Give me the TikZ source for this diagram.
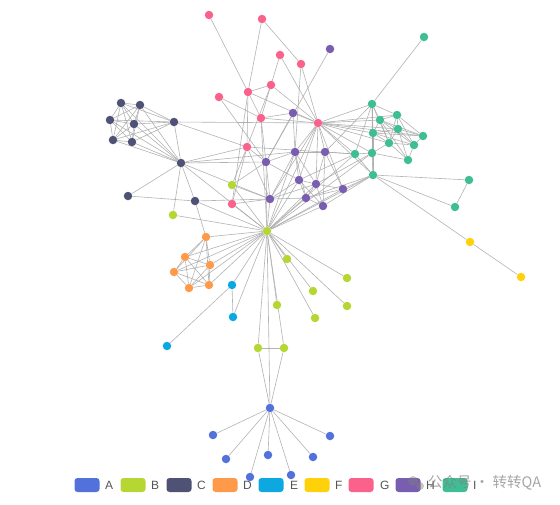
\documentclass[tikz,border=0pt]{standalone}
\usepackage{fontspec}
\setmainfont{Liberation Sans}
\newfontfamily\cjk{Noto Sans CJK SC}
\pgfdeclarelayer{bg}
\pgfsetlayers{bg,main}
\definecolor{cA}{HTML}{5271DB}
\definecolor{cB}{HTML}{B6D634}
\definecolor{cC}{HTML}{505275}
\definecolor{cD}{HTML}{FF9A4B}
\definecolor{cE}{HTML}{0CA8DF}
\definecolor{cF}{HTML}{FFD10A}
\definecolor{cG}{HTML}{FB628B}
\definecolor{cH}{HTML}{785DB0}
\definecolor{cI}{HTML}{3FBE95}
\definecolor{edgegray}{HTML}{AAAAAA}
\definecolor{legtext}{HTML}{555555}
\tikzset{
  dot/.style={circle, inner sep=0pt, minimum size=8.5pt, draw=none},
  edge/.style={draw=edgegray, line width=0.6pt, opacity=0.9},
  legbox/.style={rounded corners=3pt, inner sep=0pt, minimum width=25pt, minimum height=14pt},
  legtxt/.style={text=legtext, font=\fontsize{12}{14}\selectfont, inner sep=0pt, anchor=west},
}
\begin{document}
\begin{tikzpicture}[x=1pt,y=-1pt]
\useasboundingbox (0,0) rectangle (560,504);
% C
\foreach \n/\x/\y in {c1/121/103, c2/140/105, c3/110/120, c4/134/124, c5/113/140, c6/132/142, c7/174/122, c8/181/163, c9/128/196, c10/195/201}
  \node[dot, fill=cC] (\n) at (\x,\y) {};
% G
\foreach \n/\x/\y in {g1/209/15, g2/262/19, g3/280/55, g4/301/64, g5/271/85, g6/248/92, g7/219/97, g8/261/118, g9/318/123, g10/247/147, g11/232/204}
  \node[dot, fill=cG] (\n) at (\x,\y) {};
% H
\foreach \n/\x/\y in {h1/330/49, h2/293/113, h3/266/162, h4/295/152, h5/325/152, h6/299/180, h7/316/184, h8/343/189, h9/306/198, h10/323/206, h11/270/199}
  \node[dot, fill=cH] (\n) at (\x,\y) {};
% I
\foreach \n/\x/\y in {i1/424/37, i2/372/104, i3/380/120, i4/397/115, i5/373/133, i6/398/129, i7/423/136, i8/389/143, i9/414/145, i10/355/154, i11/372/153, i12/408/160, i13/373/175, i14/469/180, i15/455/207}
  \node[dot, fill=cI] (\n) at (\x,\y) {};
% B
\foreach \n/\x/\y in {b0/267/231, b1/232/185, b2/173/215, b3/287/259, b4/347/278, b5/313/291, b6/347/306, b7/277/305, b8/315/318, b9/258/348, b10/284/348}
  \node[dot, fill=cB] (\n) at (\x,\y) {};
% D
\foreach \n/\x/\y in {d1/206/237, d2/185/257, d3/210/265, d4/174/272, d5/189/288, d6/209/285}
  \node[dot, fill=cD] (\n) at (\x,\y) {};
% E
\foreach \n/\x/\y in {e1/232/285, e2/233/317, e3/167/346}
  \node[dot, fill=cE] (\n) at (\x,\y) {};
% F
\foreach \n/\x/\y in {f1/470/242, f2/521/277}
  \node[dot, fill=cF] (\n) at (\x,\y) {};
% A
\foreach \n/\x/\y in {a0/270/408, a1/213/435, a2/226/459, a3/268/455, a4/250/477, a5/291/475, a6/313/457, a7/330/436}
  \node[dot, fill=cA] (\n) at (\x,\y) {};

\begin{pgfonlayer}{bg}
\foreach \a/\b in {
 c1/c2, c1/c3, c1/c4, c1/c5, c1/c6, c1/c7, c1/c8,
 c2/c3, c2/c4, c2/c5, c2/c6, c2/c7, c2/c8,
 c3/c4, c3/c5, c3/c6, c3/c7, c3/c8,
 c4/c5, c4/c6, c4/c7, c4/c8,
 c5/c6, c5/c7, c5/c8, c6/c7, c6/c8,
 c7/c8, c7/g9, c7/g10,
 c8/c9, c8/c10, c8/b2, c8/g10, c8/h3, c8/h4, c8/b0, c8/h11,
 c9/c10, c10/d1, c10/h11, c10/b0,
 g1/g6, g2/g6, g2/g4, g3/g8, g3/g9, g4/g9, g4/h4, g5/g6, g5/g9, g5/g10,
 g6/g8, g6/g9, g6/g10, g6/g11, g7/g8, g7/h3, g8/g9, g8/h2, g8/b0, g8/h3,
 g10/h3, g10/g11, g10/b1, g10/h11, g10/i10, g11/h11, g11/b0,
 g9/h2, g9/h4, g9/h5, g9/h6, g9/h7, g9/h8, g9/h11, g9/b0,
 g9/i2, g9/i3, g9/i4, g9/i5, g9/i6, g9/i7, g9/i8, g9/i10, g9/i11, g9/i13,
 h1/h3, h2/h4, h2/h3, h3/h4, h3/h11, h3/b0, h3/h6, h4/h5, h4/h6, h4/h7, h4/h9, h4/h11, h4/b0,
 h5/h7, h5/h8, h5/h10, h5/i10, h5/i2, h6/h7, h6/h9, h6/h10, h6/b0, h6/i10,
 h7/h8, h7/h9, h7/h10, h7/b0, h7/i11, h8/i13, h8/h9, h8/b0, h9/h10, h9/b0, h9/i13,
 h10/b0, h10/i13, h11/b0, h11/h6, h11/h7, h11/h9, b1/b0, b1/h3, b1/h11,
 i1/i2, i2/i3, i2/i4, i2/i5, i2/i8, i2/i11, i2/i13, i2/i10,
 i3/i4, i3/i5, i3/i6, i3/i7, i3/i8, i3/i9, i3/i12,
 i4/i6, i4/i7, i4/i8, i4/i9, i5/i6, i5/i7, i5/i8, i5/i9, i5/i11, i5/i13,
 i6/i7, i6/i8, i6/i9, i6/i12, i7/i9, i8/i9, i8/i11, i8/i12, i9/i12,
 i10/i11, i10/i13, i11/i13, i11/i12, i13/i14, i13/i15, i14/i15, i13/b0, i13/f1, f1/f2, i10/b0, i11/b0,
 b0/b2, b0/b3, b0/b4, b0/b5, b0/b6, b0/b7, b0/b8, b0/b9, b0/b10, b0/a0,
 b0/d1, b0/d2, b0/d3, b0/d4, b0/d5, b0/d6, b0/e1, b0/e2,
 b9/b10, b9/a0, b10/a0,
 d1/d2, d1/d3, d1/d4, d1/d5, d1/d6, d2/d3, d2/d4, d2/d5, d2/d6,
 d3/d4, d3/d5, d3/d6, d4/d5, d4/d6, d5/d6,
 e1/e2, e1/e3,
 a0/a1, a0/a2, a0/a3, a0/a4, a0/a5, a0/a6, a0/a7}
  \draw[edge] (\a) -- (\b);
\end{pgfonlayer}

% legend
\foreach \n/\c/\x/\t/\tx in {lA/cA/87/A/105, lB/cB/133/B/151, lC/cC/179/C/197, lD/cD/225/D/243, lE/cE/271/E/290, lF/cF/317/F/335, lG/cG/361/G/380, lH/cH/408/H/426, lI/cI/455/I/473}{
  \node[legbox, fill=\c] (\n) at (\x,485) {};
  \node[legtxt] (\n t) at (\tx,485) {\t};
}
% watermark
\node[circle, fill=gray, opacity=0.45, minimum size=10pt, inner sep=0pt] (wm1) at (413,481) {};
\node[circle, fill=gray, opacity=0.45, minimum size=8pt, inner sep=0pt] (wm2) at (420,486) {};
\node[inner sep=0pt, anchor=west, text=gray, opacity=0.7, font=\cjk\fontsize{14.5}{16}\selectfont] (wm) at (428,483) {公众号 · 转转QA};
\end{tikzpicture}
\end{document}
